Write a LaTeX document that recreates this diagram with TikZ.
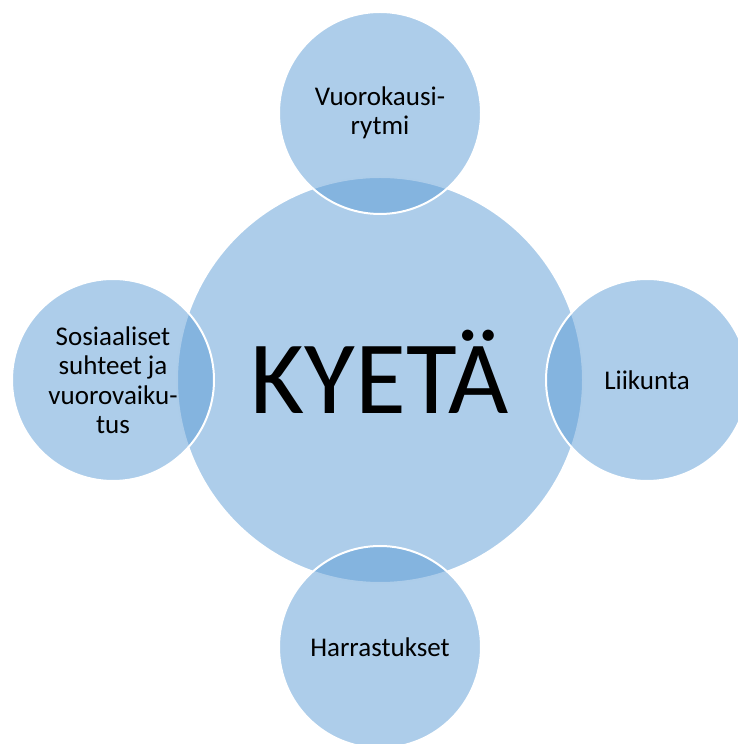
\documentclass[tikz,border=0pt]{standalone}
\usepackage{fontspec}
\setmainfont{Carlito}
\usetikzlibrary{positioning}
\definecolor{bubbleblue}{HTML}{5B9BD5}

\begin{document}
\begin{tikzpicture}[x=1pt, y=1pt,
    hub/.style={circle, minimum size=406pt, inner sep=0pt, text depth=16pt, fill=bubbleblue, fill opacity=0.5, text opacity=1, draw=white, line width=2pt, font=\fontsize{104}{110}\selectfont},
    spoke/.style={circle, minimum size=202pt, inner sep=0pt, fill=bubbleblue, fill opacity=0.5, text opacity=1, draw=white, line width=2pt, align=center, font=\fontsize{27}{29.5}\selectfont}]
    \useasboundingbox (0,0) rectangle (737,744);
    % centre circle first, the four others lie over it
    \node[hub] at (380,364) (hub) {KYET\"A};
    \node[spoke] at ([yshift=267pt]hub.center) (rytmi) {Vuorokausi-\\rytmi};
    \node[spoke] at ([xshift=267pt]hub.center) (liikunta) {Liikunta};
    \node[spoke] at ([yshift=-267pt]hub.center) (harrastus) {Harrastukset};
    \node[spoke] at ([xshift=-267pt]hub.center) (sosiaali) {Sosiaaliset\\suhteet ja\\vuorovaiku-\\tus};
\end{tikzpicture}
\end{document}
